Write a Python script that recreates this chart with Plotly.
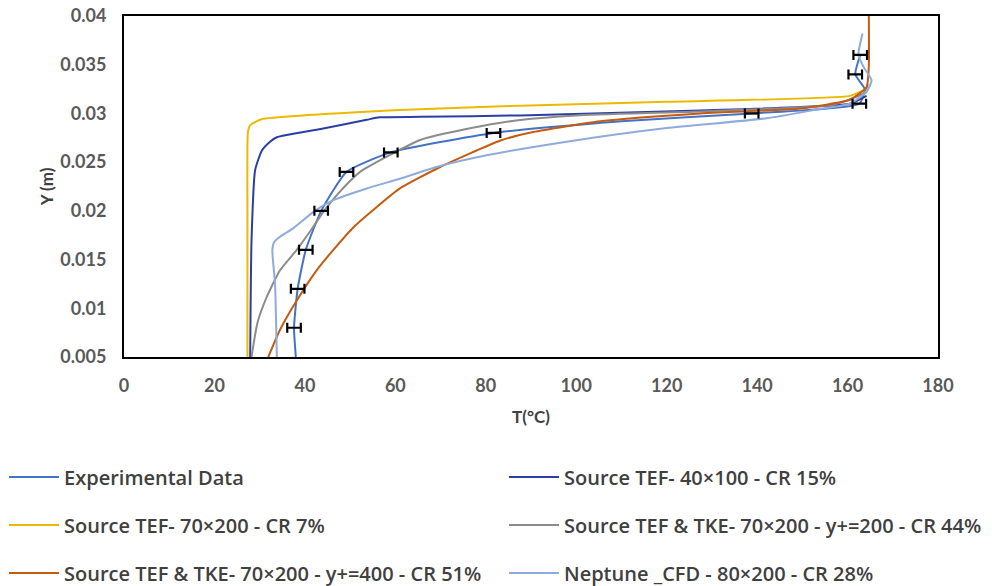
import plotly.graph_objects as go

# ---------------- data ----------------
exp_T = [37.6, 38.4, 40.2, 43.6, 49.2, 59.0, 81.7, 138.8, 162.6, 161.7, 162.8]
exp_Y = [0.008, 0.012, 0.016, 0.020, 0.024, 0.026, 0.028, 0.030, 0.031, 0.034, 0.036]
exp_err = [1.5] * len(exp_T)

exp_line_T = [38.0, 37.6, 38.4, 40.2, 43.6, 49.2, 59.0, 81.7, 110.0, 138.8, 162.6, 163.8, 161.7, 162.8]
exp_line_Y = [0.005, 0.008, 0.012, 0.016, 0.020, 0.024, 0.026, 0.028, 0.0292, 0.030, 0.031, 0.0325, 0.034, 0.036]

db_T = [27.9, 28.2, 29.0, 30.5, 32.3, 33.8, 43.5, 53.7, 56.5, 65.5, 87.6, 127.4, 160.5, 164.2]
db_Y = [0.005, 0.017, 0.0242, 0.0262, 0.0271, 0.02755, 0.0284, 0.02935, 0.0296, 0.02965, 0.0298, 0.0303, 0.0310, 0.0318]

yel_T = [27.3, 27.3, 27.4, 27.9, 30.4, 61.0, 87.6, 120.0, 160.5, 164.0]
yel_Y = [0.005, 0.020, 0.0281, 0.0288, 0.0294, 0.03035, 0.0308, 0.0312, 0.0318, 0.0325]

gray_T = [28.2, 29.5, 31.6, 34.5, 38.2, 41.9, 44.4, 47.8, 52.2, 58.1, 65.5, 76.5, 87.6, 100.0, 127.4, 156.9, 163.6, 164.5]
gray_Y = [0.005, 0.0085, 0.0112, 0.0139, 0.0160, 0.0184, 0.0201, 0.0220, 0.0240, 0.02556, 0.02727, 0.02847, 0.02933, 0.0298, 0.0302, 0.0309, 0.0321, 0.0330]

or_T = [31.9, 34.5, 38.2, 42.6, 46.3, 50.7, 55.9, 61.0, 69.9, 83.1, 90.5, 105.3, 127.4, 149.5, 160.5, 164.2, 164.7, 164.7]
or_Y = [0.005, 0.0078, 0.0108, 0.0139, 0.0160, 0.0183, 0.0204, 0.0223, 0.0245, 0.0272, 0.0281, 0.0292, 0.0300, 0.0305, 0.0314, 0.0327, 0.0348, 0.040]

nep_T = [33.8, 33.4, 32.8, 33.2, 34.5, 37.4, 41.9, 46.3, 53.7, 61.0, 69.1, 80.2, 97.9, 120.0, 142.1, 153.2, 160.5, 164.2, 165.3, 163.5, 162.4, 163.3]
nep_Y = [0.005, 0.0125, 0.0160, 0.0168, 0.01735, 0.0182, 0.0199, 0.0211, 0.0223, 0.0233, 0.0245, 0.0257, 0.0271, 0.0285, 0.0295, 0.0304, 0.0310, 0.0322, 0.0334, 0.0348, 0.0360, 0.0382]

names = [
    "Experimental Data",
    "Source TEF- 40×100 - CR 15%",
    "Source TEF- 70×200 - CR 7%",
    "Source TEF & TKE- 70×200 - y+=200 - CR 44%",
    "Source TEF & TKE- 70×200 - y+=400 - CR 51%",
    "Neptune _CFD - 80×200 - CR 28%",
]
colors = ["#4472C4", "#2B3FA3", "#EBBA00", "#8C8C8C", "#C55A11", "#8FAADC"]

x_ticks = [0, 20, 40, 60, 80, 100, 120, 140, 160, 180]
y_ticks = [0.005, 0.01, 0.015, 0.02, 0.025, 0.03, 0.035, 0.04]
y_ticktext = ["0.005", "0.01", "0.015", "0.02", "0.025", "0.03", "0.035", "0.04"]

# ---------------- figure ----------------
series = [
    (exp_line_T, exp_line_Y),
    (db_T, db_Y),
    (yel_T, yel_Y),
    (gray_T, gray_Y),
    (or_T, or_Y),
    (nep_T, nep_Y),
]
legend_ids = ["legend", "legend2", "legend3", "legend4", "legend5", "legend6"]

fig = go.Figure()
for (xs, ys), nm, col, lg in zip(series, names, colors, legend_ids):
    fig.add_trace(go.Scatter(
        x=xs, y=ys, mode="lines", name=nm, legend=lg,
        line=dict(color=col, width=2, shape="spline", smoothing=0.5),
    ))

fig.add_trace(go.Scatter(
    x=exp_T, y=exp_Y, mode="markers", showlegend=False,
    marker=dict(size=1, color="rgba(0,0,0,0)"),
    error_x=dict(type="data", array=exp_err, symmetric=True,
                 color="black", thickness=2.2, width=5),
))

tick_font = dict(family="Lato", size=18, color="#595959", weight="bold")
leg_font = dict(family="Open Sans", size=20, color="#404040", weight=600)
title_font = dict(family="Lato", size=17, color="#404040", weight="bold")

fig.update_xaxes(
    range=[0, 180], tickvals=x_ticks, showgrid=False, zeroline=False,
    showline=True, linecolor="black", linewidth=2, mirror=True,
    ticks="", tickfont=tick_font, ticklabelstandoff=11,
    title=dict(text="T(°C)", font=title_font, standoff=17),
)
fig.update_yaxes(
    range=[0.005, 0.04], tickvals=y_ticks, ticktext=y_ticktext, showgrid=False, zeroline=False,
    showline=True, linecolor="black", linewidth=2, mirror=True,
    ticks="", tickfont=tick_font, ticklabelstandoff=12,
    title=dict(text="Y (m)", font=title_font, standoff=2),
)

# legend grid: 2 columns x 3 rows below the plot
col_x = [-0.1474, 0.4668]
row_y = [-0.3519, -0.4927, -0.6334]
legends = {}
for i, lg in enumerate(legend_ids):
    legends[lg] = dict(
        orientation="h", x=col_x[i % 2], y=row_y[i // 2],
        xanchor="left", yanchor="middle",
        font=leg_font, itemwidth=50, bgcolor="rgba(0,0,0,0)",
    )

fig.update_layout(
    width=992, height=586,
    margin=dict(l=124, r=54, t=16, b=229, autoexpand=False),
    plot_bgcolor="white", paper_bgcolor="white",
    **legends,
)

fig.write_html("out.html")
